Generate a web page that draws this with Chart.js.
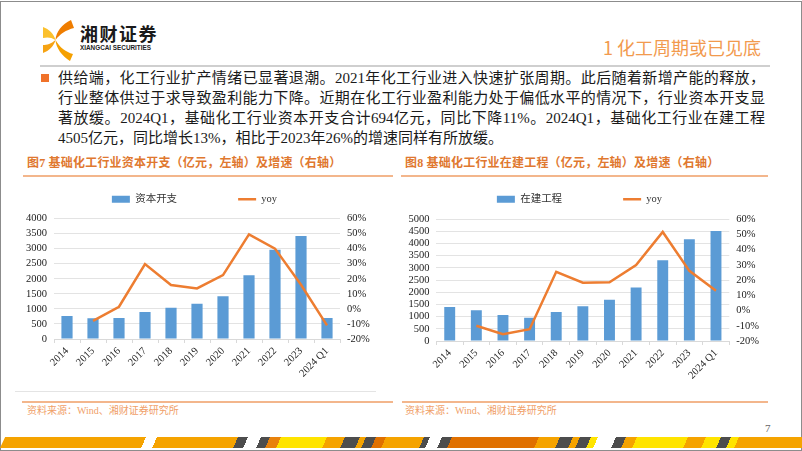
<!DOCTYPE html>
<html><head><meta charset="utf-8">
<script src="https://cdn.jsdelivr.net/npm/chart.js@4.4.1/dist/chart.umd.min.js"></script>
<style>
html,body{margin:0;padding:0;background:#fff;}
body{width:802px;height:451px;position:relative;overflow:hidden;font-family:"Liberation Serif","Noto Sans CJK SC",serif;}
.a{position:absolute;white-space:nowrap;}
.frame{position:absolute;left:0;top:1px;width:800px;height:448px;border:1px solid #8c8c8c;}
.para div{height:20px;line-height:20px;text-align:justify;text-align-last:justify;}
.para div.last{text-align-last:left;}
.ctitle{font-family:"Liberation Serif","Noto Sans CJK SC",serif;font-weight:bold;font-size:12px;color:#E0782F;letter-spacing:0.2px;}
.oline{position:absolute;height:2px;background:#F3B68C;}
.src{font-size:10px;color:#F0A068;}
canvas{position:absolute;}
</style></head>
<body>
<div class="frame"></div>
<svg class="a" style="left:40px;top:18px" width="40" height="44" viewBox="0 0 40 44">
  <path d="M31 2 C22 6 16 14 15.5 22 C20 16 26 12 34 10 Z" fill="#EF7D00"/>
  <path d="M15.5 22 C16 30 22 38 30 43 L33 36 C26 34 20 30 15.5 22 Z" fill="#F5A000"/>
  <path d="M3 9 C9 11 14 16 15.5 22 C11 19 7 19 3 20 Z" fill="#FBC02D"/>
  <path d="M3 35 C9 33 14 28 15.5 22 C11 26 7 27 3 27 Z" fill="#F6A313"/>
</svg>
<div class="a" style="left:80px;top:22px;font-family:'Noto Sans CJK SC';font-weight:bold;font-size:18px;letter-spacing:1.5px;color:#1a1a1a;line-height:22px;">湘财证券</div>
<div class="a" style="left:80px;top:43px;font-family:'Liberation Sans';font-weight:bold;font-size:7.4px;color:#222;transform:scaleX(0.86);transform-origin:left top;line-height:9px;">XIANGCAI SECURITIES</div>
<div class="a" style="left:603px;top:35px;font-family:'Noto Sans CJK SC';font-size:18px;color:#F29A4E;line-height:24px;">1 化工周期或已见底</div>
<div class="a" style="left:40px;top:65px;width:730px;height:2px;background:#CFCFCF;"></div>
<div class="a" style="left:41px;top:74px;width:8px;height:8px;background:#F0722A;"></div>
<div class="a para" style="left:58px;top:68px;width:707px;font-size:15px;color:#1a1a1a;white-space:normal;">
  <div>供给端，化工行业扩产情绪已显著退潮。2021年化工行业进入快速扩张周期。此后随着新增产能的释放，</div>
  <div>行业整体供过于求导致盈利能力下降。近期在化工行业盈利能力处于偏低水平的情况下，行业资本开支显</div>
  <div>著放缓。2024Q1，基础化工行业资本开支合计694亿元，同比下降11%。2024Q1，基础化工行业在建工程</div>
  <div class="last">4505亿元，同比增长13%，相比于2023年26%的增速同样有所放缓。</div>
</div>
<div class="a ctitle" style="left:27px;top:155px;line-height:16px;">图7 基础化工行业资本开支（亿元，左轴）及增速（右轴）</div>
<div class="a ctitle" style="left:405px;top:155px;line-height:16px;">图8 基础化工行业在建工程（亿元，左轴）及增速（右轴）</div>
<div class="oline" style="left:23px;top:175px;width:370px;"></div>
<div class="oline" style="left:401px;top:175px;width:367px;"></div>
<div class="a" style="left:15px;top:391px;width:361px;height:1px;background:#E4E4E4;"></div>
<div class="oline" style="left:22px;top:401px;width:371px;"></div>
<div class="oline" style="left:402px;top:401px;width:366px;"></div>
<div class="a src" style="left:27px;top:404px;line-height:14px;">资料来源：Wind、湘财证券研究所</div>
<div class="a src" style="left:405px;top:404px;line-height:14px;">资料来源：Wind、湘财证券研究所</div>
<div class="a" style="left:765px;top:422px;font-size:11px;color:#666;line-height:13px;">7</div>
<div class="a" style="left:-10px;top:437px;width:822px;height:11px;overflow:hidden;">
  <div style="position:absolute;left:10px;top:0;width:802px;height:11px;transform:skewX(-25deg);transform-origin:left bottom;background:linear-gradient(90deg,#F5A300 0 141px,#fff 141px 152px,#F5A300 152px 233px,#4D4D4D 233px 243px,#fff 243px 256px,#4D4D4D 256px 265px,#E8820C 265px 276px,#FFE400 276px 322px,#F5A300 322px 340px,#4D4D4D 340px 355px,#F5A300 355px 361px,#4D4D4D 361px 371px,#E07000 371px 381px,#F5A300 381px 419px,#4D4D4D 419px 425px,#fff 425px 437px,#4D4D4D 437px 447px,#E07000 447px 534px,#F5A300 534px 555px,#4D4D4D 555px 568px,#F5A300 568px 575px,#4D4D4D 575px 586px,#FFE400 586px 593px,#fff 593px 611px,#4D4D4D 611px 621px,#F5A300 621px 632px,#FFE400 632px 683px,#F5A300 683px 701px,#FFE400 701px 716px,#4D4D4D 716px 726px,#FFE400 726px 734px,#F5A300 734px 820px);"></div>
</div>

<canvas id="c1" width="361" height="251" style="left:14px;top:133px;width:361px;height:251px;"></canvas>
<canvas id="c2" width="361" height="253" style="left:399px;top:133px;width:361px;height:253px;"></canvas>

<script>
// ---- data ----
const categories = ['2014','2015','2016','2017','2018','2019','2020','2021','2022','2023','2024 Q1'];
const capexValues = [760, 685, 695, 893, 1035, 1167, 1421, 2116, 2965, 3415, 694];
const capexYoy = [null, -8, 1.4, 29.7, 15.8, 13.6, 22.4, 49.5, 40, 16, -11];
const cipValues = [1390, 1260, 1070, 950, 1190, 1420, 1690, 2190, 3310, 4170, 4505];
const cipYoy = [null, -10, -15.6, -12.3, 25.4, 18.2, 18.5, 29.8, 51.5, 26, 13];
const capexAxisTicks = [0, 4000, 500];   // min, max, step
const cipAxisTicks = [0, 5000, 500];
const yoyAxisTicks = [-20, 60, 10];      // percent

const FONT = "'Liberation Serif','Noto Sans CJK SC',serif";
const BLUE = '#5B9BD5', ORANGE = '#ED7D31';

function build(id, barLabel, bars, yoy, leftAxis, geo) {
  return new Chart(document.getElementById(id), {
    type: 'bar',
    data: {
      labels: categories,
      datasets: [
        {type:'bar', label:barLabel, data:bars, backgroundColor:BLUE, borderWidth:0,
         xAxisID:'x', yAxisID:'y', order:1, barPercentage:geo.bar, categoryPercentage:1},
        {type:'line', label:'yoy', data:yoy, borderColor:ORANGE, backgroundColor:ORANGE, borderWidth:2.5,
         pointRadius:0, pointHoverRadius:0, tension:0, xAxisID:'x', yAxisID:'y1', order:0}
      ]
    },
    options: {
      responsive:false, animation:false, events:[],
      layout:{padding:0},
      plugins:{
        tooltip:{enabled:false},
        legend:{
          display:true, position:'top', align:'center',
          labels:{
            usePointStyle:true, pointStyleWidth:18, boxHeight:7, padding:61,
            color:'#333', font:{size:10.5, family:FONT},
            generateLabels:(chart)=>chart.data.datasets.map((ds,i)=>({
              text:ds.label, datasetIndex:i, hidden:false, fontColor:'#333',
              fillStyle:ds.type==='line'?ds.borderColor:ds.backgroundColor,
              strokeStyle:ds.type==='line'?ds.borderColor:ds.backgroundColor,
              lineWidth:ds.type==='line'?2.5:0,
              pointStyle:ds.type==='line'?'line':'rect'
            }))
          }
        }
      },
      scales:{
        xTop:{type:'category', position:'top', display:true, grid:{display:false}, border:{display:false},
              ticks:{display:false}, afterFit:(s)=>{s.height=geo.topGap;}},
        x:{type:'category', position:'bottom', offset:true,
           grid:{display:true, drawOnChartArea:false, drawTicks:true, tickLength:4, color:'#D9D9D9', offset:true},
           border:{display:true, color:'#D9D9D9'},
           ticks:{minRotation:45, maxRotation:45, autoSkip:false, padding:2, color:'#222', font:{size:10.5, family:FONT}},
           afterFit:(s)=>{s.height=geo.xH;}},
        y:{position:'left', min:leftAxis[0], max:leftAxis[1],
           ticks:{stepSize:leftAxis[2], autoSkip:false, padding:7, color:'#222', font:{size:10.5, family:FONT},
                  callback:(v)=>String(v)},
           grid:{color:'#E3E3E3', drawTicks:false}, border:{display:false},
           afterFit:(s)=>{s.width=geo.yW;}},
        y1:{position:'right', min:yoyAxisTicks[0], max:yoyAxisTicks[1],
           ticks:{stepSize:yoyAxisTicks[2], autoSkip:false, padding:7, color:'#222', font:{size:10.5, family:FONT},
                  callback:(v)=>v+'%'},
           grid:{drawOnChartArea:false, drawTicks:false}, border:{display:false},
           afterFit:(s)=>{s.width=geo.y1W;}}
      }
    }
  });
}

build('c1', '资本开支', capexValues, capexYoy, capexAxisTicks, {bar:0.43, topGap:4, xH:45, yW:40, y1W:35});
build('c2', '在建工程', cipValues, cipYoy, cipAxisTicks, {bar:0.41, topGap:4.5, xH:45, yW:37.4, y1W:30.7});
</script>
</body></html>
